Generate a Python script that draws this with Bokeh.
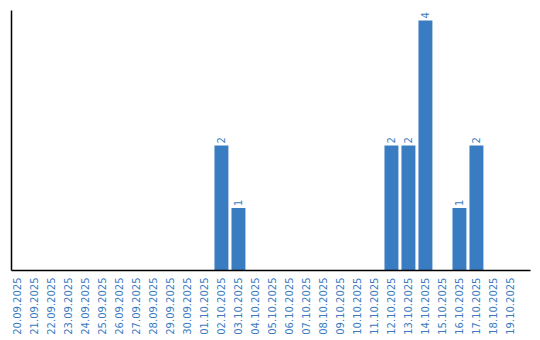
import math
from bokeh.plotting import figure
from bokeh.models import ColumnDataSource, FixedTicker, Range1d
from bokeh.core.properties import value
from bokeh.embed import file_html
from bokeh.resources import INLINE

dates = ["20.09.2025", "21.09.2025", "22.09.2025", "23.09.2025", "24.09.2025",
         "25.09.2025", "26.09.2025", "27.09.2025", "28.09.2025", "29.09.2025",
         "30.09.2025", "01.10.2025", "02.10.2025", "03.10.2025", "04.10.2025",
         "05.10.2025", "06.10.2025", "07.10.2025", "08.10.2025", "09.10.2025",
         "10.10.2025", "11.10.2025", "12.10.2025", "13.10.2025", "14.10.2025",
         "15.10.2025", "16.10.2025", "17.10.2025", "18.10.2025", "19.10.2025"]
counts = [0, 0, 0, 0, 0, 0, 0, 0, 0, 0,
          0, 0, 2, 1, 0, 0, 0, 0, 0, 0,
          0, 0, 2, 2, 4, 0, 1, 2, 0, 0]

BLUE = "#3a7cc2"
FONT = "DejaVu Sans"

idx = list(range(len(dates)))
src = ColumnDataSource(dict(x=idx, y=counts))
lab = ColumnDataSource(dict(x=[i for i, c in zip(idx, counts) if c > 0],
                            y=[c for c in counts if c > 0],
                            t=[str(c) for c in counts if c > 0]))

p = figure(width=540, height=340, output_backend="svg", toolbar_location=None,
           x_range=Range1d(-0.35, 30.18), y_range=Range1d(0, 4.16),
           min_border_left=11, min_border_right=10, min_border_top=10,
           min_border_bottom=70)
p.outline_line_color = None
p.xgrid.visible = False
p.ygrid.visible = False

p.vbar(x="x", top="y", width=0.82, source=src, color=BLUE, line_color=None)
p.text(x="x", y="y", text="t", source=lab, angle=math.pi / 2,
       text_align="left", text_baseline="middle", y_offset=-2,
       text_font=value(FONT), text_font_size="10px", text_color=BLUE)

xa = p.xaxis[0]
xa.ticker = FixedTicker(ticks=idx)
xa.major_label_overrides = {i: d for i, d in zip(idx, dates)}
xa.major_label_orientation = math.pi / 2
xa.major_tick_out = 0
xa.major_tick_in = 0
xa.minor_tick_out = 0
xa.minor_tick_in = 0
xa.major_label_standoff = 7
xa.major_label_text_font = FONT
xa.major_label_text_font_size = "10px"
xa.major_label_text_color = BLUE
xa.axis_line_color = "black"
xa.axis_line_width = 1.5

ya = p.yaxis[0]
ya.ticker = FixedTicker(ticks=[])
ya.major_tick_out = 0
ya.major_tick_in = 0
ya.minor_tick_out = 0
ya.minor_tick_in = 0
ya.major_label_standoff = 0
ya.axis_line_color = "black"
ya.axis_line_width = 1.5

open("out.html", "w").write(file_html(p, INLINE))
